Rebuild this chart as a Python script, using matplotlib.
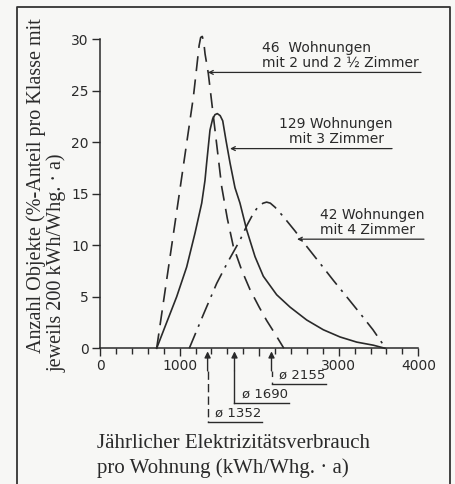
import matplotlib
matplotlib.use("Agg")
import matplotlib.pyplot as plt
from matplotlib.lines import Line2D

# Kurven (kWh/Whg.a, %-Anteil)
x_2zi = [712, 850, 1000, 1173, 1215, 1245, 1265, 1285, 1303, 1320, 1361, 1445, 1529, 1600,
         1675, 1780, 1885, 2000, 2094, 2200, 2310]
y_2zi = [0, 7.3, 15.2, 24.4, 27.3, 29.4, 30.2, 30.3, 29.8, 28.6, 26.7, 21.2, 15.7, 12.6,
         9.9, 7.6, 5.7, 4.0, 2.7, 1.4, 0]

x_3zi = [712, 817, 963, 1089, 1194, 1278, 1319, 1340, 1382, 1416, 1445, 1474, 1510, 1542,
         1583, 1634, 1696, 1759, 1843, 1948, 2052, 2220, 2388, 2597, 2806, 3016, 3226,
         3435, 3581]
y_3zi = [0, 2.1, 5.0, 7.9, 11.2, 14.1, 16.3, 18.0, 21.2, 22.3, 22.7, 22.8, 22.6, 22.1,
         20.2, 18.0, 15.6, 14.1, 11.5, 8.9, 7.0, 5.2, 4.0, 2.75, 1.8, 1.1, 0.6, 0.3, 0]

x_4zi = [1122, 1300, 1466, 1600, 1759, 1850, 1927, 1990, 2050, 2094, 2140, 2200, 2303,
         2450, 2597, 2760, 2932, 3100, 3267, 3430, 3590]
y_4zi = [0, 3.3, 6.3, 8.3, 10.5, 12.0, 13.1, 13.8, 14.1, 14.2, 14.1, 13.7, 12.8,
         11.4, 9.9, 8.3, 6.6, 5.0, 3.4, 1.8, 0]

labels = ["46  Wohnungen\nmit 2 und 2 ½ Zimmer",
          "129 Wohnungen\nmit 3 Zimmer",
          "42 Wohnungen\nmit 4 Zimmer"]
label_tip = [(1357, 26.8), (1634, 19.4), (2476, 10.6)]
label_end = [4034, 3670, 4071]
label_text_x = [2036, 2966, 2770]
label_ha = ["left", "center", "left"]

mittel = [1352, 1690, 2155]
mittel_tief = [-7.15, -5.3, -3.46]

fig = plt.figure(figsize=(4.55, 4.84), dpi=100, facecolor="#f7f7f5")
ax = fig.add_axes([0.2198, 0.2804, 0.6996, 0.638])
ax.set_facecolor("none")

col = "#2a2a2a"
ax.plot(x_2zi, y_2zi, color=col, lw=1.2, dashes=(9, 5), clip_on=False)
ax.plot(x_3zi, y_3zi, color=col, lw=1.2, clip_on=False)
ax.plot(x_4zi, y_4zi, color=col, lw=1.2, dashes=(10, 4, 1.5, 4), clip_on=False)

ax.set_xlim(0, 4000)
ax.set_ylim(0, 30)
ax.spines["top"].set_visible(False)
ax.spines["right"].set_visible(False)
for s in ["left", "bottom"]:
    ax.spines[s].set_color(col)
    ax.spines[s].set_linewidth(1.1)

ax.set_xticks([0, 1000, 2000, 3000, 4000])
ax.set_xticklabels(["0", "1000", "", "3000", "4000"])
ax.set_xticks(range(0, 4001, 200), minor=True)
ax.set_yticks([0, 5, 10, 15, 20, 25, 30])
ax.tick_params(axis="both", direction="out", colors=col, labelsize=10, width=1, length=6)
ax.tick_params(axis="x", which="minor", direction="out", color=col, length=4, width=1)
ax.tick_params(axis="y", pad=2)
ax.tick_params(axis="x", pad=2)

for i in range(3):
    ax.annotate("", xy=label_tip[i], xytext=(label_end[i], label_tip[i][1]),
                arrowprops=dict(arrowstyle="->", color=col, lw=0.9, shrinkA=0, shrinkB=0,
                                mutation_scale=7),
                annotation_clip=False)
    ax.text(label_text_x[i], label_tip[i][1] + 0.25, labels[i],
            ha=label_ha[i], va="bottom", multialignment=label_ha[i], fontsize=10, color=col,
            linespacing=1.05, clip_on=False)

stile = [(0, (6, 3)), "-", (0, (4, 4))]
for m, t, st in zip(mittel, mittel_tief, stile):
    ax.annotate("", xy=(m, -0.3), xytext=(m, -2.2),
                arrowprops=dict(arrowstyle="-|>", color=col, lw=1, shrinkA=0, shrinkB=0,
                                mutation_scale=9),
                annotation_clip=False)
    ax.add_line(Line2D([m, m], [-2.2, t], color=col, lw=1, linestyle=st, clip_on=False))
    ax.add_line(Line2D([m, m + 680], [t, t], color=col, lw=1, clip_on=False))
    ax.text(m + 90, t + 0.2, "ø " + str(m), ha="left", va="bottom", fontsize=9.5,
            color=col, clip_on=False)

serif = "Liberation Serif"
fig.text(97 / 455, 1 - 443 / 484, "Jährlicher Elektrizitätsverbrauch", family=serif,
         fontsize=15, color=col, ha="left", va="center")
fig.text(97 / 455, 1 - 468 / 484, "pro Wohnung (kWh/Whg. · a)", family=serif,
         fontsize=15, color=col, ha="left", va="center")
fig.text(36 / 455, 1 - 353 / 484, "Anzahl Objekte (%-Anteil pro Klasse mit", family=serif,
         fontsize=14.5, color=col, rotation=90, rotation_mode="anchor", ha="left", va="center")
fig.text(57 / 455, 1 - 372 / 484, "jeweils 200 kWh/Whg. · a)", family=serif,
         fontsize=14.5, color=col, rotation=90, rotation_mode="anchor", ha="left", va="center")

# Rahmen
x0, x1, y1 = 16.5 / 455, 450 / 455, 1 - 7 / 484
fig.add_artist(Line2D([x0, x0, x1, x1], [0, y1, y1, 0], color="#333333", lw=1.3,
                      transform=fig.transFigure))

fig.savefig("out.png", dpi=100, facecolor=fig.get_facecolor())
